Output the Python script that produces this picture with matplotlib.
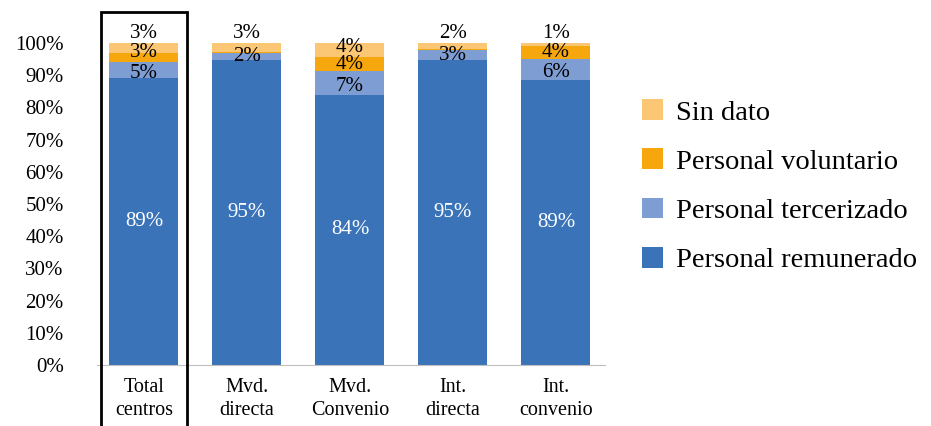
import matplotlib.pyplot as plt
from matplotlib.patches import Rectangle

plt.rcParams['font.family'] = ['Liberation Serif', 'DejaVu Serif']

# Datos (% sobre el total de personal)
categorias = ['Total\ncentros', 'Mvd.\ndirecta', 'Mvd.\nConvenio', 'Int.\ndirecta', 'Int.\nconvenio']
remunerado = [89.0, 94.6, 83.9, 94.6, 88.6]
tercerizado = [5.2, 2.2, 7.4, 3.1, 6.4]
voluntario = [2.8, 0.4, 4.2, 0.5, 4.0]
sin_dato = [3.0, 2.8, 4.4, 1.8, 1.0]

series = [
    ('Personal remunerado', remunerado, '#3A73B8'),
    ('Personal tercerizado', tercerizado, '#7E9DD3'),
    ('Personal voluntario', voluntario, '#F7A70E'),
    ('Sin dato', sin_dato, '#FBC774'),
]

fig = plt.figure(figsize=(9.31, 4.26), dpi=100)
ax = fig.add_axes([97 / 931, 61 / 426, 508 / 931, 322 / 426])

x = list(range(len(categorias)))
base = [0.0] * len(categorias)
handles = []
for nombre, valores, color in series:
    barras = ax.bar(x, valores, 0.67, bottom=base, color=color, label=nombre)
    handles.append(barras)
    for i, v in enumerate(valores):
        if v < 1:
            continue
        centro = base[i] + v / 2
        color_txt = 'black'
        if nombre == 'Personal remunerado':
            color_txt = 'white'
        elif nombre == 'Sin dato' and v < 3.5:
            centro = 103.0  # etiqueta por encima de la barra
        elif nombre == 'Sin dato':
            centro += 1.0
        elif nombre == 'Personal voluntario' and v < 3.5:
            centro += 1.5
        elif nombre == 'Personal tercerizado' and v > 5:
            centro -= 1.0
        ax.text(i, centro, f'{round(v):.0f}%', ha='center', va='center',
                fontsize=15, color=color_txt, clip_on=False)
    base = [b + v for b, v in zip(base, valores)]

ax.set_xlim(-0.456, 4.476)
ax.set_ylim(0, 100)
ax.set_yticks(range(0, 101, 10))
ax.set_yticklabels([f'{t}%' for t in range(0, 101, 10)], fontsize=15)
ax.set_xticks(x)
ax.set_xticklabels(categorias, fontsize=14.5, linespacing=1.3)
ax.tick_params(axis='y', length=0, pad=24)
ax.tick_params(axis='x', length=0, pad=9)
for lado in ['top', 'right', 'left']:
    ax.spines[lado].set_visible(False)
ax.spines['bottom'].set_color('#BFBFBF')

# recuadro que destaca el total
ax.add_patch(Rectangle((-0.418, -25), 0.836, 134.6, fill=False, edgecolor='black',
                       linewidth=2, clip_on=False, zorder=5))

fig.legend(handles[::-1], [s[0] for s in series][::-1], loc='center left',
           bbox_to_anchor=(0.662, 0.563), frameon=False, fontsize=20.5,
           handlelength=0.75, handleheight=0.75, handletextpad=0.45, labelspacing=0.8)

fig.savefig('out.png', dpi=100)
